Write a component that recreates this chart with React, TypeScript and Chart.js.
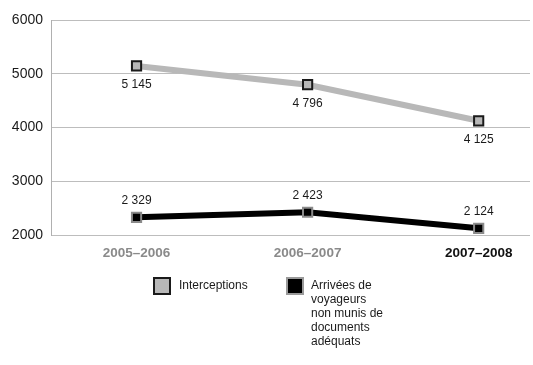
import React, { useEffect, useRef } from "react";
import { Chart, registerables } from "chart.js";

Chart.register(...registerables);

const categories = ["2005–2006", "2006–2007", "2007–2008"];
const interceptions = [5145, 4796, 4125];
const arrivees = [2329, 2423, 2124];
const yTicks = [2000, 3000, 4000, 5000, 6000];
const legendLabels = ["Interceptions", "Arrivées de voyageurs non munis de documents adéquats"];

const fmt = (v: number) => String(v).replace(/\B(?=(\d{3})+(?!\d))/g, " ");

const valueLabels = {
  id: "valueLabels",
  afterDatasetsDraw(chart: any) {
    const ctx = chart.ctx;
    ctx.save();
    ctx.font = "12px 'Liberation Sans', Arial, sans-serif";
    ctx.fillStyle = "#1a1a1a";
    ctx.textAlign = "center";
    ctx.textBaseline = "middle";
    chart.data.datasets.forEach((ds: any, di: number) => {
      const meta = chart.getDatasetMeta(di);
      meta.data.forEach((pt: any, i: number) => {
        const v = ds.data[i].y;
        const dy = di === 0 ? 19 : -17;
        ctx.fillText(fmt(v), pt.x, pt.y + dy);
      });
    });
    ctx.restore();
  },
};

export default function App() {
  const ref = useRef<HTMLCanvasElement>(null);
  useEffect(() => {
    if (!ref.current) return;
    const chart = new Chart(ref.current, {
      type: "line",
      data: {
        datasets: [
          {
            label: legendLabels[0],
            data: interceptions.map((y, i) => ({ x: i, y })),
            borderColor: "#b8b8b8",
            borderWidth: 6,
            pointStyle: "rect",
            pointRadius: 6.5,
            pointBackgroundColor: "#b8b8b8",
            pointBorderColor: "#1a1a1a",
            pointBorderWidth: 2,
          },
          {
            label: legendLabels[1],
            data: arrivees.map((y, i) => ({ x: i, y })),
            borderColor: "#000000",
            borderWidth: 6,
            pointStyle: "rect",
            pointRadius: 6.5,
            pointBackgroundColor: "#000000",
            pointBorderColor: "#8a8a8a",
            pointBorderWidth: 2,
          },
        ],
      },
      options: {
        animation: false,
        responsive: false,
        layout: { autoPadding: false, padding: { top: 20, right: 3, left: 0, bottom: 0 } },
        plugins: { legend: { display: false }, tooltip: { enabled: false } },
        scales: {
          x: {
            type: "linear",
            min: -0.5,
            max: 2.3,
            grid: { display: false, drawTicks: false },
            border: { display: false },
            afterBuildTicks: (axis: any) => {
              axis.ticks = categories.map((_, i) => ({ value: i }));
            },
            afterFit: (axis: any) => {
              axis.height = 130;
              axis.paddingLeft = 0;
              axis.paddingRight = 0;
            },
            ticks: {
              autoSkip: false,
              maxRotation: 0,
              padding: 10,
              font: { family: "'Liberation Sans', Arial, sans-serif", size: 13.5, weight: "bold" },
              color: (c: any) => (c.index === 2 ? "#111111" : "#8a8a8a"),
              callback: (v: any) => categories[v as number] ?? "",
            },
          },
          y: {
            min: yTicks[0],
            max: yTicks[yTicks.length - 1],
            afterBuildTicks: (axis: any) => {
              axis.ticks = yTicks.map((v) => ({ value: v }));
            },
            afterFit: (axis: any) => {
              axis.width = 51;
              axis.paddingTop = 0;
              axis.paddingBottom = 0;
            },
            grid: { color: "#bdbdbd", lineWidth: 1, drawTicks: false },
            border: { display: true, color: "#b0b0b0", width: 1 },
            ticks: {
              padding: 8,
              font: { family: "'Liberation Sans', Arial, sans-serif", size: 14 },
              color: "#1a1a1a",
              callback: (v: any) => String(v),
            },
          },
        },
      },
      plugins: [valueLabels],
    } as any);
    return () => chart.destroy();
  }, []);

  const textStyle: React.CSSProperties = {
    position: "absolute",
    fontFamily: "'Liberation Sans', Arial, sans-serif",
    fontSize: 12,
    lineHeight: "14px",
    color: "#1a1a1a",
  };

  return (
    <div style={{ position: "absolute", left: 0, top: 0, width: 533, height: 365, background: "#fff" }}>
      <canvas ref={ref} width={533} height={365} style={{ position: "absolute", left: 0, top: 0 }} />
      <div
        style={{
          position: "absolute",
          left: 153,
          top: 277,
          width: 18,
          height: 18,
          boxSizing: "border-box",
          border: "2px solid #1a1a1a",
          background: "#b8b8b8",
        }}
      />
      <div style={{ ...textStyle, left: 179, top: 278 }}>{legendLabels[0]}</div>
      <div
        style={{
          position: "absolute",
          left: 286,
          top: 277,
          width: 18,
          height: 18,
          boxSizing: "border-box",
          border: "2px solid #9a9a9a",
          background: "#000",
        }}
      />
      <div style={{ ...textStyle, left: 311, top: 278, width: 74 }}>{legendLabels[1]}</div>
    </div>
  );
}
